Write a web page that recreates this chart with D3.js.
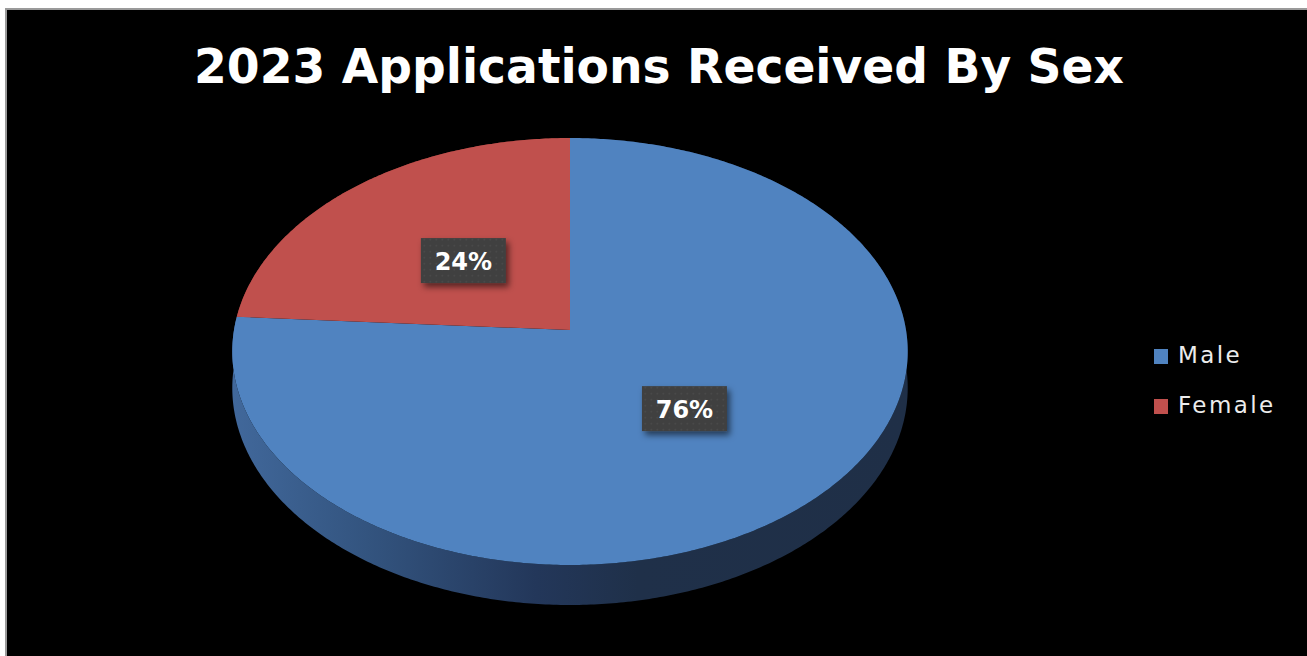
<!DOCTYPE html>
<html>
<head>
<meta charset="utf-8">
<script src="https://cdn.jsdelivr.net/npm/d3@7"></script>
<style>
  html, body { margin: 0; padding: 0; background: #ffffff; }
  svg { display: block; }
</style>
</head>
<body>
<svg id="chart" width="1307" height="656"></svg>
<script>
// Chart content
const chartTitle = "2023 Applications Received By Sex";
const categories = ["Male", "Female"];
const shares = [76, 24];          // percent of applications
const sliceColors = ["#5083c0", "#c0504d"];

const svg = d3.select("#chart");
const W = 1307, H = 656;

// page frame
svg.append("rect").attr("x", 0).attr("y", 0).attr("width", W).attr("height", H).attr("fill", "#ffffff");
svg.append("rect").attr("x", 5).attr("y", 8).attr("width", W - 5).attr("height", H - 8).attr("fill", "#9a9a9a");
svg.append("rect").attr("x", 7).attr("y", 10).attr("width", W - 7).attr("height", H - 10).attr("fill", "#000000");

const defs = svg.append("defs");

// side wall shading
const sideGrad = defs.append("linearGradient").attr("id", "sideBlue")
  .attr("gradientUnits", "userSpaceOnUse").attr("x1", 232).attr("x2", 908).attr("y1", 0).attr("y2", 0);
[[0, "#41689b"], [0.2, "#33547f"], [0.45, "#23375a"], [0.6, "#1f3049"], [1, "#1f2f47"]]
  .forEach(([o, c]) => sideGrad.append("stop").attr("offset", o).attr("stop-color", c));
const sideGradR = defs.append("linearGradient").attr("id", "sideRed")
  .attr("gradientUnits", "userSpaceOnUse").attr("x1", 232).attr("x2", 908).attr("y1", 0).attr("y2", 0);
[[0, "#8a3735"], [1, "#5a2422"]]
  .forEach(([o, c]) => sideGradR.append("stop").attr("offset", o).attr("stop-color", c));
const sideFills = ["url(#sideBlue)", "url(#sideRed)"];

// label box texture and shadow
const pat = defs.append("pattern").attr("id", "dots").attr("patternUnits", "userSpaceOnUse")
  .attr("width", 6).attr("height", 6);
pat.append("rect").attr("width", 6).attr("height", 6).attr("fill", "#3f3f3f");
pat.append("circle").attr("cx", 3).attr("cy", 3).attr("r", 0.9).attr("fill", "#4c4c4c");
const shadow = defs.append("filter").attr("id", "boxShadow")
  .attr("x", "-30%").attr("y", "-30%").attr("width", "170%").attr("height", "170%");
shadow.append("feDropShadow").attr("dx", 3).attr("dy", 4).attr("stdDeviation", 3)
  .attr("flood-color", "#000").attr("flood-opacity", 0.55);

// title
svg.append("text")
  .attr("x", 659).attr("y", 83)
  .attr("text-anchor", "middle")
  .attr("font-family", "DejaVu Sans, Verdana, sans-serif")
  .attr("font-weight", "bold").attr("font-size", 48)
  .attr("textLength", 930).attr("lengthAdjust", "spacingAndGlyphs")
  .attr("fill", "#ffffff")
  .text(chartTitle);

// tilted pie with perspective
const cx = 570, cy = 330;
const A = 336, B = 211.3, k = 0.1007, depth = 36;

function project(angle, frac, drop) {
  const u = frac * Math.sin(angle);
  const v = -frac * Math.cos(angle);
  const s = 1 / (1 - k * v);
  return [cx + A * u * s, cy + B * v * s + drop * s];
}

const pie = d3.pie().sort(null).startAngle(0).endAngle(2 * Math.PI).value(d => d);
const arcs = pie(shares);

function arcPoints(a0, a1, drop) {
  const n = Math.max(2, Math.ceil((a1 - a0) / 0.01));
  return d3.range(n + 1).map(i => project(a0 + (a1 - a0) * i / n, 1, drop));
}

const line = d3.line();

// outer walls
const pieG = svg.append("g");
arcs.forEach((d, i) => {
  const top = arcPoints(d.startAngle, d.endAngle, 0);
  const bottom = arcPoints(d.startAngle, d.endAngle, depth).reverse();
  pieG.append("path")
    .attr("d", line(top.concat(bottom)) + "Z")
    .attr("fill", sideFills[i]);
});

// top faces
arcs.forEach((d, i) => {
  const pts = [[cx, cy]].concat(arcPoints(d.startAngle, d.endAngle, 0));
  pieG.append("path")
    .attr("d", line(pts) + "Z")
    .attr("fill", sliceColors[i]);
});

// value labels
const boxW = 85, boxH = 45;
arcs.forEach((d, i) => {
  const mid = (d.startAngle + d.endAngle) / 2;
  const [lx, ly] = project(mid, 0.48, 0);
  const g = svg.append("g").attr("transform", `translate(${lx},${ly + 2})`);
  g.append("rect")
    .attr("x", -boxW / 2).attr("y", -boxH / 2)
    .attr("width", boxW).attr("height", boxH)
    .attr("fill", "url(#dots)")
    .attr("filter", "url(#boxShadow)");
  g.append("text")
    .attr("x", 0).attr("y", 9)
    .attr("text-anchor", "middle")
    .attr("font-family", "DejaVu Sans, Verdana, sans-serif")
    .attr("font-weight", "bold").attr("font-size", 24)
    .attr("fill", "#ffffff")
    .text(shares[i] + "%");
});

// legend
const legend = svg.append("g");
categories.forEach((c, i) => {
  const y = 356 + i * 50;
  legend.append("rect")
    .attr("x", 1154).attr("y", y - 7).attr("width", 14).attr("height", 15)
    .attr("fill", sliceColors[i]);
  legend.append("text")
    .attr("x", 1178).attr("y", y + 7)
    .attr("font-family", "DejaVu Sans, Verdana, sans-serif")
    .attr("font-size", 23)
    .attr("letter-spacing", 2.4)
    .attr("fill", "#ececec")
    .text(c);
});
</script>
</body>
</html>
